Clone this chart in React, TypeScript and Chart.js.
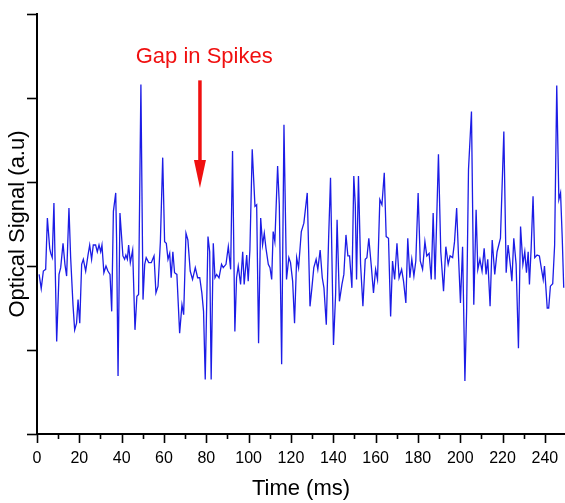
import React, { useEffect, useRef } from "react";
import { Chart, registerables } from "chart.js";

Chart.register(...registerables);

// Time (ms) of each vertex of the trace
const timeMs: number[] = [
  1.0, 2.0, 3.0, 4.1, 4.9, 6.0, 6.5, 7.2, 8.0, 9.3, 10.4, 11.2, 12.3, 13.2, 14.0, 15.1, 15.9, 17.0, 17.8, 18.7,
  19.4, 20.2, 21.1, 21.9, 23.0, 24.1, 24.9, 25.8, 26.6, 27.7, 28.5, 29.3, 30.1, 30.7, 31.6, 32.6, 33.5, 34.5, 35.3, 36.1,
  37.2, 37.6, 38.3, 39.2, 40.6, 41.4, 42.0, 42.7, 43.3, 44.1, 45.2, 46.3, 47.2, 48.0, 49.1, 50.1, 50.9, 51.6, 52.8, 54.0,
  55.3, 56.2, 57.2, 58.3, 59.4, 60.3, 61.1, 61.9, 62.7, 63.4, 64.2, 65.0, 66.1, 67.4, 68.5, 69.3, 70.4, 71.3, 72.4, 73.5,
  74.8, 75.9, 76.9, 77.9, 78.7, 79.5, 80.8, 81.6, 82.3, 83.3, 84.1, 84.9, 86.0, 87.2, 88.0, 89.3, 90.4, 91.5, 92.4, 93.5,
  94.3, 95.1, 96.2, 97.2, 97.9, 99.1, 99.8, 100.6, 101.7, 103.0, 103.8, 104.7, 105.7, 106.6, 107.4, 108.2, 109.3, 110.1, 110.9, 111.6,
  112.4, 113.7, 114.5, 115.6, 116.7, 117.9, 119.0, 119.8, 120.8, 121.7, 122.7, 123.6, 124.9, 126.1, 127.7, 129.0, 129.9, 130.8, 131.9, 132.7,
  133.8, 134.8, 135.6, 136.7, 137.8, 138.7, 140.1, 141.1, 141.8, 142.9, 144.1, 145.0, 146.0, 146.9, 147.7, 148.8, 149.7, 150.4, 151.0, 151.9,
  152.9, 154.0, 155.1, 155.9, 156.8, 157.9, 159.0, 160.0, 160.9, 162.0, 163.0, 164.1, 165.0, 166.1, 167.1, 168.0, 169.0, 170.1, 171.1, 172.3,
  173.2, 174.3, 175.2, 176.2, 177.1, 178.1, 179.0, 180.1, 181.1, 182.2, 183.3, 184.2, 185.3, 186.3, 187.2, 188.1, 189.7, 190.8, 192.1, 193.2,
  194.3, 195.2, 196.4, 197.3, 198.3, 199.2, 200.1, 201.1, 202.2, 203.0, 203.9, 205.3, 206.4, 207.5, 208.3, 209.3, 210.3, 211.3, 212.2, 213.0,
  214.1, 215.1, 216.3, 217.4, 219.0, 220.6, 221.7, 222.6, 223.8, 224.4, 225.3, 226.4, 227.5, 228.5, 229.6, 230.5, 231.3, 232.1, 232.7, 233.5,
  234.4, 235.2, 236.3, 237.4, 238.4, 239.2, 239.8, 241.1, 241.8, 242.6, 243.7, 244.6, 245.6, 246.6, 247.4, 248.2, 248.9,
];

// Optical signal (a.u.) at each vertex
const signal: number[] = [
  1.90, 1.73, 1.94, 1.96, 2.57, 2.21, 2.15, 2.10, 2.75, 1.10, 1.90, 1.98, 2.27, 2.02, 1.88, 2.69, 2.10, 1.54, 1.24, 1.32,
  1.60, 1.32, 2.02, 2.08, 1.94, 2.13, 2.25, 2.08, 2.25, 2.25, 2.17, 2.25, 2.17, 2.25, 1.92, 2.00, 1.94, 1.90, 1.46, 2.65,
  2.87, 2.33, 0.69, 2.63, 2.12, 2.08, 2.13, 2.08, 2.25, 2.04, 2.19, 1.24, 1.64, 1.66, 4.16, 1.60, 2.02, 2.10, 2.04, 2.04,
  2.12, 1.68, 1.76, 2.29, 3.29, 2.29, 2.27, 2.08, 2.15, 1.86, 2.17, 1.92, 1.90, 1.20, 1.54, 1.42, 2.39, 2.31, 1.94, 1.84,
  1.98, 1.86, 1.86, 1.68, 1.46, 0.65, 2.35, 2.17, 0.65, 2.27, 1.86, 1.90, 1.86, 2.02, 1.98, 2.02, 2.23, 1.96, 3.37, 1.22,
  1.86, 2.00, 1.78, 2.17, 1.78, 2.13, 1.82, 2.19, 3.39, 2.71, 2.73, 1.08, 2.57, 2.25, 2.39, 2.21, 2.02, 1.98, 1.84, 2.41,
  2.29, 3.19, 2.73, 0.83, 3.68, 1.84, 2.10, 2.04, 1.82, 1.32, 2.10, 1.98, 2.41, 2.51, 2.87, 1.52, 1.74, 1.98, 2.08, 1.96,
  2.19, 1.86, 1.74, 1.30, 2.33, 3.05, 1.06, 1.66, 2.55, 1.58, 1.78, 1.90, 2.37, 2.12, 2.12, 1.74, 3.07, 2.73, 1.84, 3.07,
  2.02, 1.52, 2.08, 2.10, 2.33, 2.02, 1.68, 1.96, 1.84, 2.79, 2.73, 3.11, 2.35, 2.33, 1.40, 2.06, 1.84, 2.27, 1.86, 1.96,
  1.82, 1.56, 2.33, 1.86, 2.08, 1.88, 2.06, 2.87, 2.06, 1.96, 2.29, 2.12, 2.15, 1.84, 2.63, 1.84, 3.33, 2.17, 1.70, 2.23,
  2.02, 2.12, 2.10, 2.29, 2.69, 2.10, 1.56, 2.23, 0.63, 1.46, 3.15, 3.84, 1.54, 2.67, 1.96, 2.08, 1.94, 2.21, 1.90, 2.08,
  1.52, 2.31, 1.90, 2.17, 2.33, 3.60, 1.92, 2.25, 1.98, 1.82, 2.33, 2.02, 1.02, 2.47, 2.02, 2.17, 1.92, 2.17, 1.78, 2.21,
  2.83, 2.10, 2.13, 2.12, 1.96, 1.84, 2.00, 1.50, 1.50, 1.76, 1.79, 2.25, 4.15, 2.79, 2.87, 2.33, 1.74,
];

const xTickValues: number[] = [0, 20, 40, 60, 80, 100, 120, 140, 160, 180, 200, 220, 240];
const yTickValues: number[] = [0, 1, 2, 3, 4, 5];

const annotationText = "Gap in Spikes";
const arrowTime = 77;
const arrowFrom = 4.21;
const arrowTo = 2.93;
const textTime = 79;
const textValue = 4.49;

const FONT = "'Liberation Sans', Arial, sans-serif";

export default function App() {
  const ref = useRef<HTMLCanvasElement | null>(null);

  useEffect(() => {
    if (!ref.current) return;
    const decorations = {
      id: "decorations",
      afterDraw(chart: any) {
        const { ctx } = chart;
        const xs = chart.scales.x;
        const ys = chart.scales.y;
        ctx.save();
        ctx.strokeStyle = "#000";
        ctx.lineWidth = 1.6;
        // x ticks (major every 20, minor every 10)
        for (let v = 0; v <= xs.max; v += 10) {
          const px = Math.round(xs.getPixelForValue(v)) + 0.5;
          const len = v % 20 === 0 ? 9 : 5;
          ctx.beginPath();
          ctx.moveTo(px, ys.bottom);
          ctx.lineTo(px, ys.bottom + len);
          ctx.stroke();
        }
        // y ticks
        for (const v of yTickValues) {
          const py = Math.round(ys.getPixelForValue(v)) + 0.5;
          ctx.beginPath();
          ctx.moveTo(xs.left - 10, py);
          ctx.lineTo(xs.left, py);
          ctx.stroke();
        }
        // annotation
        const ax = xs.getPixelForValue(arrowTime);
        const ay1 = ys.getPixelForValue(arrowFrom);
        const ay2 = ys.getPixelForValue(arrowTo);
        ctx.strokeStyle = "#f01010";
        ctx.fillStyle = "#f01010";
        ctx.lineWidth = 3.5;
        ctx.beginPath();
        ctx.moveTo(ax, ay1);
        ctx.lineTo(ax, ay2 - 20);
        ctx.stroke();
        ctx.beginPath();
        ctx.moveTo(ax - 6, ay2 - 28);
        ctx.lineTo(ax + 6, ay2 - 28);
        ctx.lineTo(ax, ay2);
        ctx.closePath();
        ctx.fill();
        ctx.font = `22px ${FONT}`;
        ctx.textAlign = "center";
        ctx.textBaseline = "middle";
        ctx.fillText(annotationText, xs.getPixelForValue(textTime), ys.getPixelForValue(textValue));
        ctx.restore();
      },
    };

    const chart = new Chart(ref.current, {
      type: "line",
      data: {
        datasets: [
          {
            data: timeMs.map((t, i) => ({ x: t, y: signal[i] })),
            borderColor: "rgb(28,28,230)",
            borderWidth: 1.3,
            pointRadius: 0,
            tension: 0,
            fill: false,
          },
        ],
      },
      options: {
        animation: false,
        responsive: false,
        maintainAspectRatio: false,
        layout: { padding: { top: 14, right: 0, left: 0, bottom: 0 } },
        plugins: { legend: { display: false }, tooltip: { enabled: false } },
        scales: {
          x: {
            type: "linear",
            min: 0,
            max: 249.5,
            afterFit: (s: any) => {
              s.height = 69;
              s.paddingLeft = 0;
              s.paddingRight = 0;
            },
            afterBuildTicks: (s: any) => {
              s.ticks = xTickValues.map((v) => ({ value: v }));
            },
            grid: { display: false, drawTicks: true, tickLength: 15 },
            border: { display: true, color: "#000", width: 2 },
            ticks: {
              color: "#000",
              padding: 0,
              maxRotation: 0,
              autoSkip: false,
              font: { family: FONT, size: 16 },
            },
            title: {
              display: true,
              text: "Time (ms)",
              color: "#000",
              font: { family: FONT, size: 22 },
              padding: { top: 0, bottom: 1 },
            },
          },
          y: {
            type: "linear",
            min: 0,
            max: 5,
            afterFit: (s: any) => {
              s.width = 37;
              s.paddingTop = 0;
              s.paddingBottom = 0;
            },
            afterBuildTicks: (s: any) => {
              s.ticks = yTickValues.map((v) => ({ value: v }));
            },
            grid: { display: false, drawTicks: false },
            border: { display: true, color: "#000", width: 2 },
            ticks: { display: false },
            title: {
              display: true,
              text: "Optical Signal (a.u)",
              color: "#000",
              font: { family: FONT, size: 22 },
              padding: { top: 5, bottom: 0 },
            },
          },
        },
      },
      plugins: [decorations],
    });
    return () => chart.destroy();
  }, []);

  return (
    <div style={{ position: "absolute", left: 0, top: 0, width: 565, height: 503, background: "#fff" }}>
      <canvas ref={ref} width={565} height={503} style={{ width: 565, height: 503, display: "block" }} />
    </div>
  );
}
